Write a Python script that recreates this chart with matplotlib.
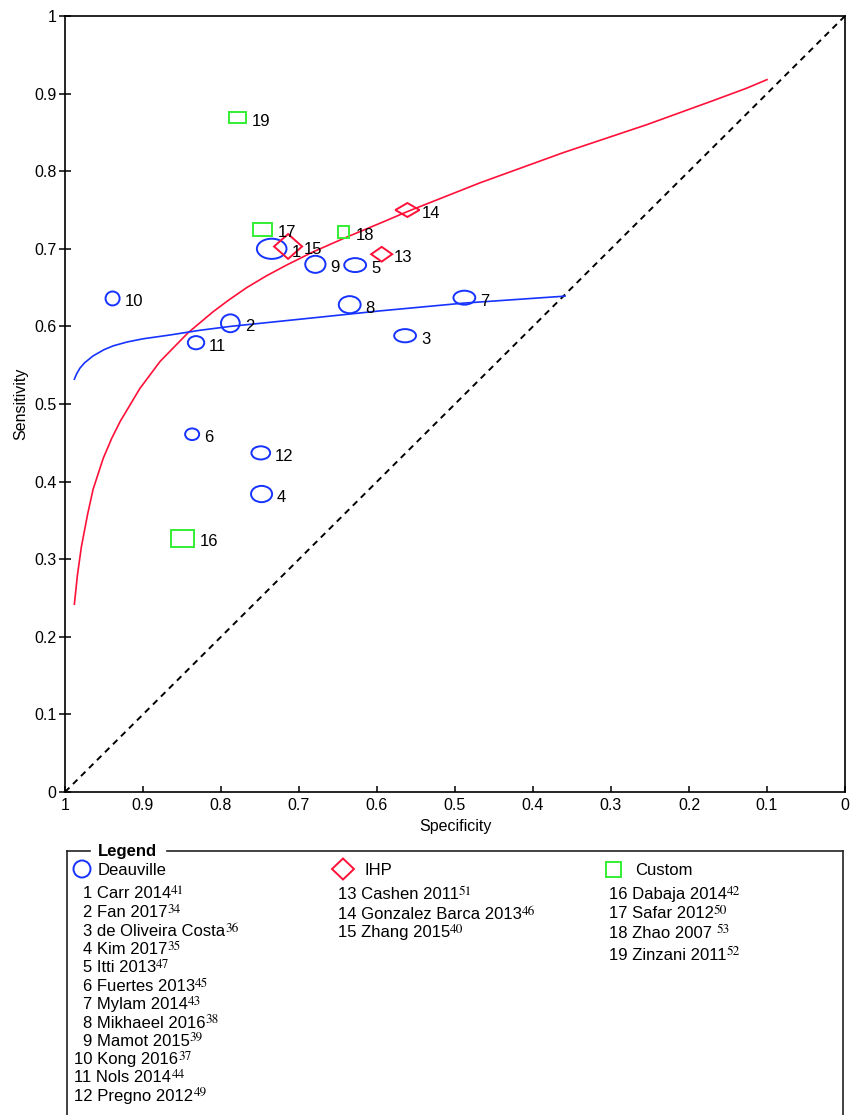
import matplotlib
matplotlib.use("Agg")
import matplotlib.pyplot as plt
from matplotlib.patches import Ellipse, Rectangle, Polygon
from matplotlib.lines import Line2D

plt.rcParams['font.family'] = ['Liberation Sans', 'DejaVu Sans']

# ---------------- data ----------------
study_id = list(range(1, 20))
study_names = ["Carr 2014", "Fan 2017", "de Oliveira Costa", "Kim 2017", "Itti 2013",
               "Fuertes 2013", "Mylam 2014", "Mikhaeel 2016", "Mamot 2015", "Kong 2016",
               "Nols 2014", "Pregno 2012", "Cashen 2011", "Gonzalez Barca 2013",
               "Zhang 2015", "Dabaja 2014", "Safar 2012", "Zhao 2007", "Zinzani 2011"]
study_refs = [41, 34, 36, 35, 47, 45, 43, 38, 39, 37, 44, 49, 51, 46, 40, 42, 50, 53, 52]
study_group = ["Deauville"] * 12 + ["IHP"] * 3 + ["Custom"] * 4
specificity = [0.735, 0.788, 0.564, 0.748, 0.628, 0.837, 0.488, 0.635, 0.679, 0.939,
               0.832, 0.749, 0.594, 0.561, 0.714, 0.849, 0.747, 0.643, 0.779]
sensitivity = [0.700, 0.604, 0.588, 0.384, 0.679, 0.461, 0.637, 0.628, 0.680, 0.636,
               0.579, 0.437, 0.693, 0.750, 0.703, 0.327, 0.725, 0.722, 0.869]
# marker extents (study weights) in axis units
spec_extent = [0.038, 0.024, 0.028, 0.027, 0.028, 0.018, 0.028, 0.028, 0.026, 0.018,
               0.021, 0.024, 0.027, 0.031, 0.036, 0.029, 0.024, 0.015, 0.022]
sens_extent = [0.026, 0.023, 0.017, 0.021, 0.018, 0.015, 0.018, 0.022, 0.022, 0.018,
               0.017, 0.017, 0.019, 0.018, 0.032, 0.022, 0.017, 0.015, 0.014]

# summary ROC curves
ihp_curve_spec = [0.988, 0.984, 0.979, 0.971, 0.964, 0.951, 0.940, 0.929, 0.904, 0.878,
                  0.842, 0.810, 0.790, 0.767, 0.742, 0.716, 0.682, 0.639, 0.596, 0.561,
                  0.468, 0.361, 0.254, 0.169, 0.126, 0.100]
ihp_curve_sens = [0.242, 0.280, 0.316, 0.358, 0.390, 0.430, 0.456, 0.478, 0.520, 0.555,
                  0.592, 0.619, 0.634, 0.650, 0.665, 0.679, 0.696, 0.715, 0.733, 0.748,
                  0.785, 0.824, 0.860, 0.891, 0.907, 0.918]
deau_curve_spec = [0.988, 0.985, 0.981, 0.975, 0.964, 0.950, 0.938, 0.920, 0.900, 0.865,
                   0.827, 0.788, 0.682, 0.596, 0.489, 0.359]
deau_curve_sens = [0.532, 0.539, 0.546, 0.553, 0.562, 0.570, 0.575, 0.580, 0.584, 0.589,
                   0.595, 0.600, 0.611, 0.620, 0.630, 0.639]

tick_values = [0, 0.1, 0.2, 0.3, 0.4, 0.5, 0.6, 0.7, 0.8, 0.9, 1]
tick_labels = ["0", "0.1", "0.2", "0.3", "0.4", "0.5", "0.6", "0.7", "0.8", "0.9", "1"]
group_names = ["Deauville", "IHP", "Custom"]

# ---------------- style ----------------
BLUE = "#1633ff"
RED = "#ff1038"
GREEN = "#33ee33"
colors = {"Deauville": BLUE, "IHP": RED, "Custom": GREEN}
FS = 12

W, H = 857, 1115
fig = plt.figure(figsize=(W / 100, H / 100), dpi=100)
ax = fig.add_axes([65 / W, 1 - 792 / H, 780 / W, 776 / H])
ax.set_xlim(1, 0)
ax.set_ylim(0, 1)

ax.plot([1, 0], [0, 1], color="black", lw=1.4, dashes=(3.2, 2.6), zorder=1)
ax.plot(ihp_curve_spec, ihp_curve_sens, color=RED, lw=1.2, zorder=2,
        solid_joinstyle="round")
ax.plot(deau_curve_spec, deau_curve_sens, color=BLUE, lw=1.2, zorder=2,
        solid_joinstyle="round")

for i in range(len(study_id)):
    g = study_group[i]
    x, y = specificity[i], sensitivity[i]
    w, h = spec_extent[i], sens_extent[i]
    c = colors[g]
    if g == "Deauville":
        p = Ellipse((x, y), w, h, fill=False, edgecolor=c, lw=1.4, zorder=3)
        gap = 5
    elif g == "IHP":
        p = Polygon([(x + w / 2, y), (x, y + h / 2), (x - w / 2, y), (x, y - h / 2)],
                    closed=True, fill=False, edgecolor=c, lw=1.4, zorder=3)
        gap = 2
    else:
        p = Rectangle((x + w / 2, y - h / 2), -w, h, fill=False, edgecolor=c, lw=1.4, zorder=3)
        gap = 6
    ax.add_patch(p)
    ax.annotate(str(study_id[i]), xy=(x - w / 2, y), xytext=(gap * 0.72, -8 * 0.72),
                textcoords="offset points", ha="left", va="baseline", fontsize=FS, zorder=4)

ax.set_xticks(tick_values)
ax.set_xticklabels(tick_labels)
ax.set_yticks(tick_values)
ax.set_yticklabels(tick_labels)
ax.tick_params(axis="x", direction="in", length=4.5, width=1.1, pad=4, labelsize=11.5)
ax.tick_params(axis="y", direction="inout", length=8, width=1.1, pad=2, labelsize=11.5)
for s in ax.spines.values():
    s.set_linewidth(1.2)
ax.set_xlabel("Specificity", fontsize=11.5)
ax.set_ylabel("Sensitivity", fontsize=11.5)
ax.xaxis.set_label_coords(0.5, -0.035)
ax.yaxis.set_label_coords(-0.047, 0.5)

# ---------------- legend (pixel overlay) ----------------
lax = fig.add_axes([0, 0, 1, 1])
lax.set_xlim(0, W)
lax.set_ylim(H, 0)
lax.axis("off")
lax.patch.set_visible(False)

lc = "#222222"
lax.add_line(Line2D([67, 90], [851, 851], color=lc, lw=1.2))
lax.add_line(Line2D([167, 843], [851, 851], color=lc, lw=1.2))
lax.add_line(Line2D([67, 67], [851, H + 5], color=lc, lw=1.2))
lax.add_line(Line2D([843, 843], [851, H + 5], color=lc, lw=1.2))
lax.text(98, 856, "Legend", fontsize=FS, fontweight="bold", ha="left", va="baseline")

# group headers
lax.add_patch(Ellipse((82, 869), 17, 17, fill=False, edgecolor=BLUE, lw=1.4))
lax.text(98, 875, group_names[0], fontsize=FS, ha="left", va="baseline")
lax.add_patch(Polygon([(332, 869), (343, 858.5), (354, 869), (343, 879.5)], closed=True,
                      fill=False, edgecolor=RED, lw=1.4))
lax.text(365, 875, group_names[1], fontsize=FS, ha="left", va="baseline")
lax.add_patch(Rectangle((606, 861.5), 15, 15, fill=False, edgecolor=GREEN, lw=1.4))
lax.text(635, 875, group_names[2], fontsize=FS, ha="left", va="baseline")

col_rows = {
    "Deauville": (83, [892, 911, 930.5, 948.5, 966.5, 985, 1003, 1021.5, 1039.5, 1058, 1076.5, 1094.5]),
    "IHP": (338, [893, 913, 931.5]),
    "Custom": (609, [893, 912.5, 931.5, 953.5]),
}
counters = {g: 0 for g in group_names}
for i in range(len(study_id)):
    g = study_group[i]
    x0, ys = col_rows[g]
    y = ys[counters[g]]
    counters[g] += 1
    xx = x0
    if g == "Deauville" and study_id[i] >= 10:
        xx = 74.5
    base = y + 6
    t = lax.text(xx, base, f"{study_id[i]} {study_names[i]}",
                 fontsize=FS, ha="left", va="baseline")
    sup_gap = 3.0 if study_names[i] == "Zhao 2007" else 0.0
    lax.annotate(str(study_refs[i]), xy=(1, base), xycoords=(t, "data"),
                 xytext=(sup_gap, 4.2 * 0.72),
                 textcoords="offset points", ha="left", va="baseline",
                 fontsize=9.5, family="STIXGeneral")

fig.savefig("out.png", dpi=100)
